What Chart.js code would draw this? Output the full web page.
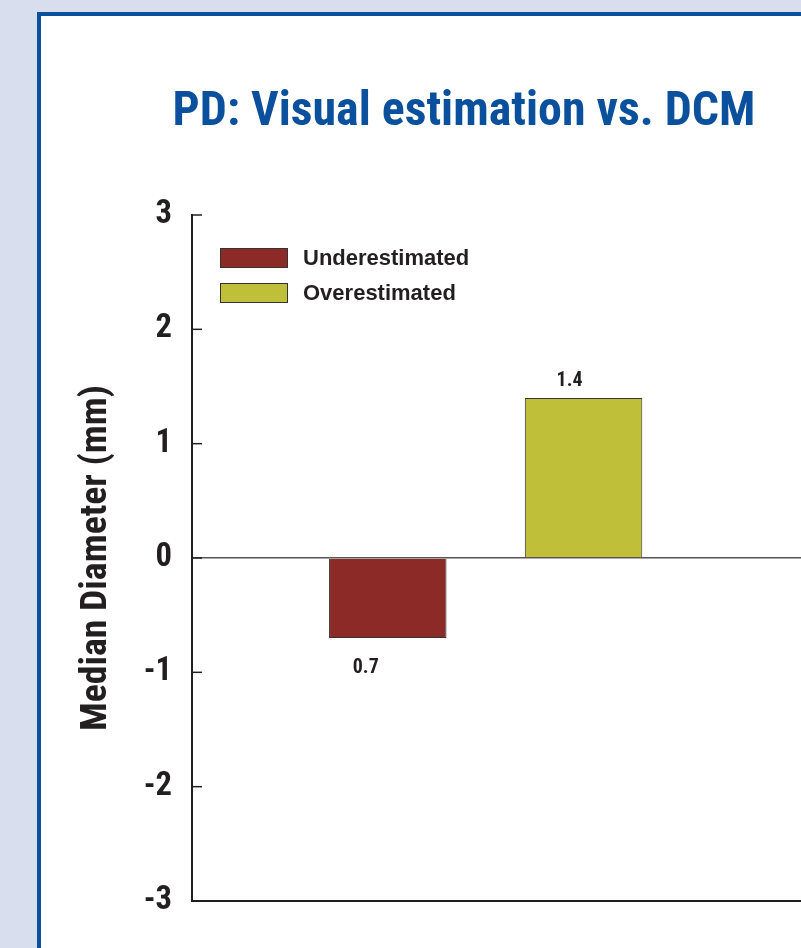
<!DOCTYPE html>
<html>
<head>
<meta charset="UTF-8">
<script src="https://cdn.jsdelivr.net/npm/chart.js"></script>
<style>
  body { margin: 0; width: 801px; height: 948px; overflow: hidden; background: #d8deee; }
  .panel { position: absolute; left: 37px; top: 12px; width: 900px; height: 1000px;
           background: #fff; border-left: 4px solid #0b509c; border-top: 4px solid #0b509c; }
  canvas { position: absolute; left: 0; top: 0; }
</style>
</head>
<body>
<div class="panel">
  <canvas id="chart" width="846" height="932"></canvas>
</div>
<script>
const categories = ['Underestimated', 'Overestimated'];
const values = [-0.7, 1.4];
const barColors = ['#8b2a26', '#bfbf3a'];
const yTicks = [-3, -2, -1, 0, 1, 2, 3];

const ink = '#231f20';

// find a condensed bold face (the original uses Helvetica Condensed)
const probe = document.createElement('canvas').getContext('2d');
function textW(font, txt) { probe.font = font; return probe.measureText(txt || 'Median Diameter').width; }
function has(name) {
  return textW(`bold 40px "${name}", monospace`) !== textW('bold 40px monospace') ||
         textW(`bold 40px "${name}", serif`) !== textW('bold 40px serif');
}
let condFamily = '"DejaVu Sans Condensed", sans-serif';
let condWeight = 'bold';
const named = ['Liberation Sans Narrow', 'Arial Narrow', 'Noto Sans Condensed', 'Roboto Condensed'];
const pick = named.find(has);
if (pick) {
  condFamily = `"${pick}", sans-serif`;
} else {
  const stretchy = ['Noto Sans', 'Open Sans', 'Roboto', 'Inter'].find(f =>
    has(f) && textW(`bold condensed 40px "${f}"`) < 0.93 * textW(`bold 40px "${f}"`));
  if (stretchy) { condFamily = `"${stretchy}", sans-serif`; condWeight = 'bold condensed'; }
}
// size so a text spans the width it has in the original, capped at the original size
function fitSize(txt, target, max) {
  return Math.min(max, 100 * target / textW(`${condWeight} 100px ${condFamily}`, txt));
}
const titleSize = fitSize('PD: Visual estimation vs. DCM', 583, 48);
const yTitleSize = fitSize('Median Diameter (mm)', 346, 38);
const tickSize = fitSize('0', 16.5, 33);
const labelSize = fitSize('1.4', 26, 22);

const datasets = categories.map((name, i) => ({
  label: name,
  data: [{ x: i + 1, y: values[i] }],
  backgroundColor: barColors[i],
  borderColor: '#333',
  borderWidth: 1,
  categoryPercentage: 1,
  barPercentage: 0.6,
  grouped: false
}));

// short tick marks pointing into the plot
const innerTicks = {
  id: 'innerTicks',
  afterDraw(chart) {
    const { ctx, chartArea } = chart;
    const y = chart.scales.y;
    ctx.save();
    ctx.strokeStyle = ink;
    ctx.lineWidth = 1.5;
    yTicks.forEach(v => {
      const py = y.getPixelForValue(v);
      ctx.beginPath();
      ctx.moveTo(chartArea.left, py);
      ctx.lineTo(chartArea.left + 10, py);
      ctx.stroke();
    });
    ctx.restore();
  }
};

// legend inside the plot, top left
const innerLegend = {
  id: 'innerLegend',
  afterDraw(chart) {
    const { ctx, chartArea } = chart;
    ctx.save();
    ctx.font = 'bold 22px "Liberation Sans", Arial, sans-serif';
    ctx.textBaseline = 'middle';
    chart.data.datasets.forEach((ds, i) => {
      const bx = chartArea.left + 28;
      const by = chartArea.top + 33 + i * 35;
      ctx.fillStyle = ds.backgroundColor;
      ctx.fillRect(bx, by, 68, 20);
      ctx.strokeStyle = '#333';
      ctx.lineWidth = 1;
      ctx.strokeRect(bx + 0.5, by + 0.5, 67, 19);
      ctx.fillStyle = ink;
      ctx.fillText(ds.label, bx + 68 + 15, by + 11);
    });
    ctx.restore();
  }
};

// value labels, shown as magnitudes
const valueLabels = {
  id: 'valueLabels',
  afterDatasetsDraw(chart) {
    const { ctx } = chart;
    ctx.save();
    ctx.font = `${condWeight} ${labelSize}px ${condFamily}`;
    ctx.fillStyle = ink;
    ctx.textAlign = 'center';
    chart.data.datasets.forEach((ds, i) => {
      const bar = chart.getDatasetMeta(i).data[0];
      const v = ds.data[0].y;
      const txt = Math.abs(v).toFixed(1);
      if (v >= 0) {
        ctx.textBaseline = 'bottom';
        ctx.fillText(txt, bar.x - 14, bar.y - 7);
      } else {
        ctx.textBaseline = 'top';
        ctx.fillText(txt, bar.x - 22, bar.y + 20);
      }
    });
    ctx.restore();
  }
};

const titleLH = titleSize * 1.2;
const titleTop = 97 - titleLH / 2;

new Chart(document.getElementById('chart'), {
  type: 'bar',
  data: { datasets },
  options: {
    responsive: false,
    animation: false,
    layout: { padding: { left: 0, right: 0, top: 0, bottom: 47 } },
    plugins: {
      legend: { display: false },
      tooltip: { enabled: false },
      title: {
        display: true,
        text: 'PD: Visual estimation vs. DCM',
        color: '#0b509c',
        font: { family: condFamily, size: titleSize, weight: condWeight },
        padding: { top: titleTop, bottom: 199 - titleTop - titleLH }
      }
    },
    scales: {
      x: {
        type: 'linear',
        offset: false,
        min: 0,
        max: 3.55,
        ticks: { display: false, stepSize: 1, includeBounds: false },
        grid: { display: false, offset: false, drawTicks: false, tickLength: 0 },
        border: { display: true, color: ink, width: 2 }
      },
      y: {
        min: -3,
        max: 3,
        afterFit(scale) { scale.width = 151; },
        afterBuildTicks(scale) { scale.ticks = yTicks.map(v => ({ value: v })); },
        ticks: {
          color: ink,
          padding: 20,
          font: { family: condFamily, size: tickSize, weight: condWeight }
        },
        grid: {
          drawTicks: false,
          color: c => (c.tick && c.tick.value === 0 ? '#555' : 'rgba(0,0,0,0)'),
          lineWidth: 1.5
        },
        border: { display: true, color: ink, width: 2 },
        title: {
          display: true,
          text: 'Median Diameter (mm)',
          color: ink,
          font: { family: condFamily, size: yTitleSize, weight: condWeight },
          padding: { top: 56 - yTitleSize * 0.6, bottom: 0 }
        }
      }
    }
  },
  plugins: [innerTicks, innerLegend, valueLabels]
});
</script>
</body>
</html>
